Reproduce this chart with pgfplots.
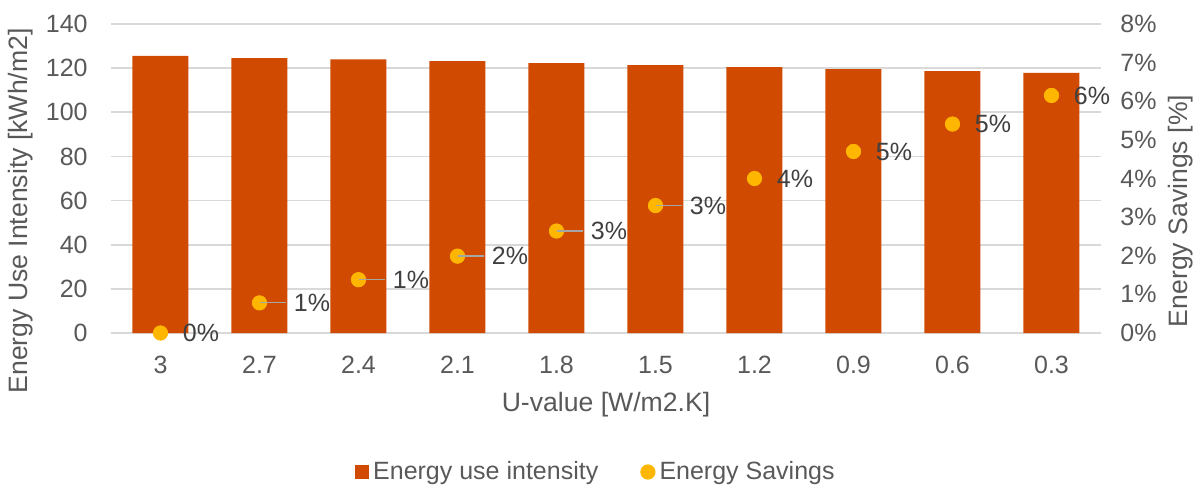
\documentclass[border=0pt]{standalone}
\usepackage{fontspec}
\setmainfont{Liberation Sans}
\usepackage{pgfplots}
\pgfplotsset{compat=1.18}
\definecolor{barc}{RGB}{208,74,2}
\definecolor{goldc}{RGB}{255,182,0}
\definecolor{txtc}{RGB}{89,89,89}
\definecolor{labc}{RGB}{64,64,64}
\definecolor{gridc}{RGB}{217,217,217}
\definecolor{leadc}{RGB}{166,166,166}
\protected\def\lbl#1{\hspace*{11pt}#1\%}
\protected\def\lld#1{\textcolor{leadc}{\rule[4pt]{13pt}{0.8pt}}\hspace*{4pt}#1\%}
\newcommand\fs{\fontsize{12.5}{15}\selectfont}
\newcommand\fl{\fontsize{13.3}{16}\selectfont}
\begin{document}
\begin{tikzpicture}
\useasboundingbox (-55.5pt,-77.5pt) rectangle (544.5pt,166.5pt);
\pgfplotsset{
 base/.style={at={(0,0)}, anchor=south west, scale only axis, width=495pt, height=154.5pt,
   xmin=-0.5, xmax=9.5, axis line style={draw=none}, major tick length=0pt,
   /pgf/number format/assume math mode=true,
   tick label style={font=\fs, text=txtc}, label style={font=\fl, text=txtc}}
}
\begin{axis}[base, ymin=0, ymax=140, ytick={0,20,...,140}, ymajorgrids,
  grid style={draw=gridc, line width=0.9pt},
  xtick={0,...,9}, xticklabels={3,2.7,2.4,2.1,1.8,1.5,1.2,0.9,0.6,0.3},
  yticklabel style={anchor=east, inner sep=0pt, xshift=-11.5pt},
  xticklabel style={anchor=center, inner sep=0pt, yshift=-16pt},
  xlabel={U-value [W/m2.K]}, ylabel={Energy Use Intensity [kWh/m2]},
  xlabel style={at={(axis description cs:0.5,0)}, anchor=center, yshift=-36pt},
  ylabel style={at={(axis description cs:-0.0909,0.395)}, anchor=center, rotate=0}]
\addplot[ybar, bar width=28pt, fill=barc, draw=none] coordinates {
(0,125.6) (1,124.5) (2,124.0) (3,123.2) (4,122.3) (5,121.4) (6,120.5) (7,119.6) (8,118.7) (9,117.9)};
\end{axis}
\begin{axis}[base, ymin=0, ymax=8, ytick={0,...,8}, axis x line=none, axis y line*=right,
  yticklabel={\pgfmathprintnumber{\tick}\%},
  yticklabel style={anchor=west, inner sep=0pt, xshift=9.5pt},
  ylabel={Energy Savings [\%]},
  ylabel style={at={(axis description cs:1.0808,0.395)}, anchor=center},
  legend columns=2, legend cell align=left,
  legend style={at={(axis description cs:0.5,0)}, anchor=center, yshift=-69.5pt, xshift=-4.5pt,
    draw=none, fill=none, font=\fs, text=txtc,
    /tikz/every even column/.append style={column sep=19pt}}]
\addlegendimage{legend image code/.code={\fill[barc] (0pt,-3.25pt) rectangle (6.5pt,3.25pt);}}
\addlegendentry{Energy use intensity}
\addplot[only marks, mark=*, mark size=3.6pt, color=goldc, mark options={fill=goldc, draw=goldc},
  point meta=explicit symbolic, nodes near coords={\pgfplotspointmeta},
  every node near coord/.append style={anchor=west, inner sep=0pt, font=\fs, text=labc},
  legend image code/.code={\fill[goldc] (3.6pt,0pt) circle (3.6pt);}] coordinates {
(0,0) [\lbl{0}]
(1,0.78) [\lld{1}]
(2,1.38) [\lld{1}]
(3,1.99) [\lld{2}]
(4,2.64) [\lld{3}]
(5,3.30) [\lld{3}]
(6,4.00) [\lbl{4}]
(7,4.70) [\lbl{5}]
(8,5.41) [\lbl{5}]
(9,6.15) [\lbl{6}]};
\addlegendentry{Energy Savings}
\end{axis}
\end{tikzpicture}
\end{document}
